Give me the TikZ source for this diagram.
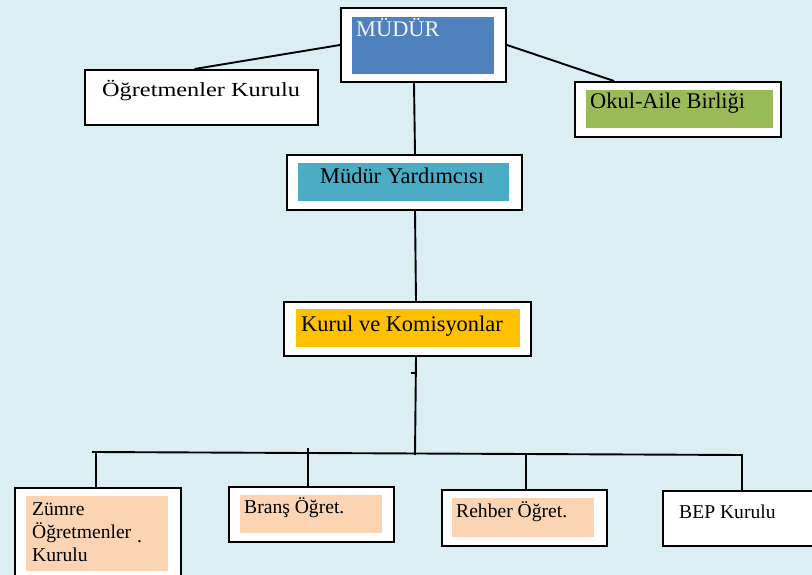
\documentclass[tikz,border=0pt]{standalone}
\usepackage{fontspec}
\setmainfont{Liberation Serif}
\newfontfamily\wideserif[FakeStretch=1.215]{Liberation Serif}
\definecolor{bg}{HTML}{DBEEF4}
\definecolor{mudblue}{HTML}{4F81BD}
\definecolor{yrdcyan}{HTML}{4BACC6}
\definecolor{kurgold}{HTML}{FFC000}
\definecolor{okgreen}{HTML}{9BBB59}
\definecolor{peach}{HTML}{FBD4B4}
\definecolor{mudtext}{HTML}{F4F4F4}
\begin{document}
\begin{tikzpicture}[x=1pt,y=-1pt,
  outerbox/.style={draw=black, line width=2pt, fill=white, inner sep=0pt, anchor=north west},
  fillbox/.style={fill=#1, draw=none, inner sep=0pt, anchor=north west},
  lbl/.style={anchor=base west, inner sep=0pt, font=\fontsize{22.4}{26}\selectfont},
  smalllbl/.style={anchor=base west, inner sep=0pt, font=\fontsize{19.6}{23}\selectfont},
  conn/.style={line width=1.9pt, draw=black},
  thickconn/.style={line width=2.8pt, draw=black}]
\fill[bg] (0,0) rectangle (812,575);
\useasboundingbox (0,0) rectangle (812,575);
\clip (0,0) rectangle (812,575);

% outer boxes
\node[outerbox, minimum width=165pt, minimum height=74pt] (mud) at (340,7) {};
\node[outerbox, minimum width=233pt, minimum height=55pt] (ogk) at (84,69) {};
\node[outerbox, minimum width=206pt, minimum height=55pt] (okul) at (574,81) {};
\node[outerbox, minimum width=235pt, minimum height=55pt] (my) at (286,154) {};
\node[outerbox, minimum width=247pt, minimum height=54pt] (kk) at (283,301) {};
\node[outerbox, minimum width=166pt, minimum height=120pt] (zum) at (14,487) {};
\node[outerbox, minimum width=165pt, minimum height=55pt] (bra) at (228,486) {};
\node[outerbox, minimum width=165pt, minimum height=56pt] (reh) at (441,489) {};
\node[outerbox, minimum width=170pt, minimum height=55pt] (bep) at (662,490) {};

% inner fills
\node[fillbox=mudblue, minimum width=142pt, minimum height=57pt] (mudi) at (352,17) {};
\node[fillbox=okgreen, minimum width=187pt, minimum height=38pt] (okuli) at (586,90) {};
\node[fillbox=yrdcyan, minimum width=211pt, minimum height=38pt] (myi) at (298,163) {};
\node[fillbox=kurgold, minimum width=224pt, minimum height=38pt] (kki) at (296,309) {};
\node[fillbox=peach, minimum width=142pt, minimum height=75pt] (zumi) at (26,496) {};
\node[fillbox=peach, minimum width=142pt, minimum height=38pt] (brai) at (240,495) {};
\node[fillbox=peach, minimum width=142pt, minimum height=39pt] (rehi) at (452,498) {};

% texts
\node[lbl, text=mudtext] (tmud) at (356,37) {MÜDÜR};
\node[anchor=base west, inner sep=0pt, font=\wideserif\fontsize{20}{24}\selectfont] (togk) at (102,97) {Öğretmenler Kurulu};
\node[lbl] (tokul) at (590,109) {Okul-Aile Birliği};
\node[lbl] (tmy) at (320,184) {Müdür Yardımcısı};
\node[lbl] (tkk) at (301,331) {Kurul ve Komisyonlar};
\node[smalllbl] (tzum1) at (32,515) {Zümre};
\node[smalllbl] (tzum2) at (32,538) {Öğretmenler};
\node[smalllbl] (tzumdot) at (137,542) {.};
\node[smalllbl] (tzum3) at (32,561) {Kurulu};
\node[smalllbl] (tbra) at (244,513) {Branş Öğret.};
\node[smalllbl] (treh) at (456,517) {Rehber Öğret.};
\node[smalllbl] (tbep) at (679,518) {BEP Kurulu};

% bus coordinates
\coordinate (busL) at (92,452);
\coordinate (busR) at (742,455);
\coordinate (busC) at (415,455);
\coordinate (bz) at (96,452);
\coordinate (bb) at (308,448);
\coordinate (br) at (526,453);
\coordinate (be) at (742,454);
\coordinate (tickA) at (411,373);
\coordinate (tickB) at (415,373);

% connectors
\draw[conn] (mud.west) -- ([xshift=-7pt]ogk.north);
\draw[conn] (mud.east) -- ([xshift=-64pt]okul.north);
\draw[conn] ([xshift=-9.5pt]mud.south) -- ([xshift=10.5pt]my.north);
\draw[conn] ([xshift=10.5pt]my.south) -- ([xshift=8.5pt]kk.north);
\draw[conn] ([xshift=8.5pt]kk.south) -- (busC);
\draw[conn] (tickA) -- (tickB);
\draw[conn] (busL) -- (busR);
\draw[conn] (bz) -- (bz |- zum.north);
\draw[thickconn] (bb) -- (bb |- bra.north);
\draw[conn] (br) -- (br |- reh.north);
\draw[conn] (be) -- (be |- bep.north);
\end{tikzpicture}
\end{document}
